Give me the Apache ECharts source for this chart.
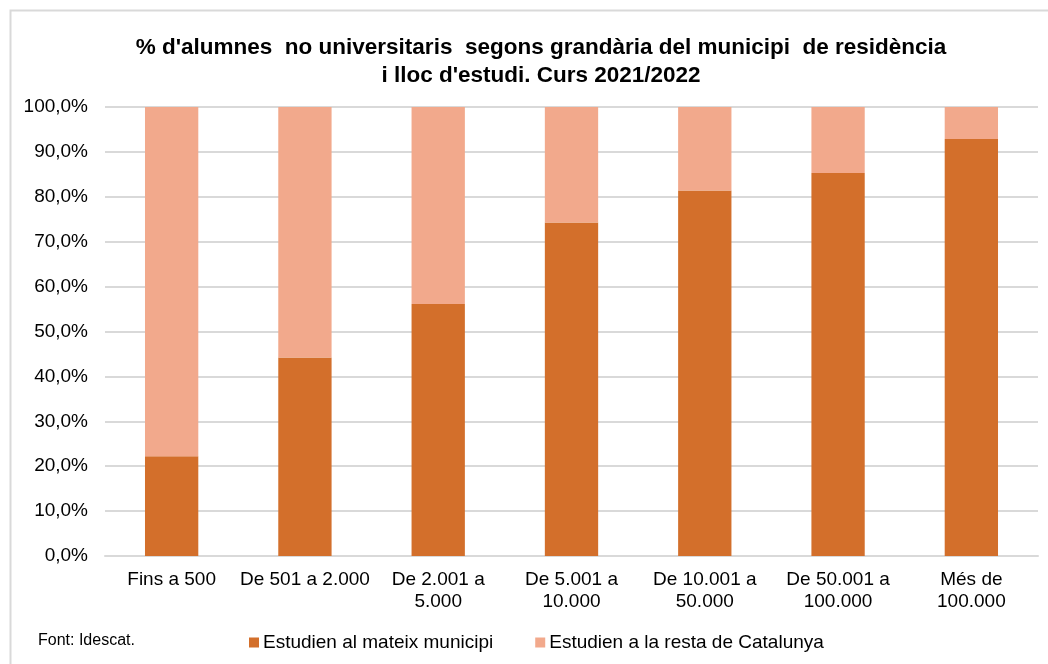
<!DOCTYPE html>
<html lang="ca">
<head>
	<meta charset="UTF-8">
	<title>Alumnes no universitaris</title>
	<style>
		html, body { margin: 0; padding: 0; background: #fff; }
		#chart { width: 1048px; height: 664px; }
	</style>
</head>
<body>
	<div id="chart"></div>
	<script src="https://cdn.jsdelivr.net/npm/echarts@6/dist/echarts.min.js"></script>
	<script>
		// categories = mida del municipi
		var categories = ['Fins a 500', 'De 501 a 2.000', 'De 2.001 a\n5.000', 'De 5.001 a\n10.000',
			'De 10.001 a\n50.000', 'De 50.001 a\n100.000', 'Més de\n100.000'];
		var mateixMunicipi = [22.2, 44.2, 56.1, 74.3, 81.4, 85.3, 92.9];
		var restaCatalunya = [77.8, 55.8, 43.9, 25.7, 18.6, 14.7, 7.1];
		var yTicks = [0, 10, 20, 30, 40, 50, 60, 70, 80, 90, 100];

		var font = 'Liberation Sans, Arial, sans-serif';

		var myChart = echarts.init(document.getElementById('chart'));
		myChart.setOption({
			backgroundColor: '#fff',
			animation: false,
			title: {
				text: "% d'alumnes  no universitaris  segons grandària del municipi  de residència\ni lloc d'estudi. Curs 2021/2022",
				left: 536, top: 29, textAlign: 'center',
				textStyle: { fontFamily: font, fontSize: 22.5, fontWeight: 'bold', color: '#000', lineHeight: 28 }
			},
			graphic: [
				{ type: 'rect', shape: { x: 10.5, y: 10.5, width: 1060, height: 700 }, style: { fill: 'none', stroke: '#d9d9d9', lineWidth: 2 } },
				{ type: 'text', left: 38, top: 633, style: { text: 'Font: Idescat.', font: '16px ' + font, fill: '#000' } }
			],
			legend: {
				left: 244, top: 628,
				itemWidth: 10, itemHeight: 10, itemGap: 42,
				icon: 'rect',
				textStyle: { fontFamily: font, fontSize: 19, color: '#000', padding: [0, 0, 0, -1] },
				data: ['Estudien al mateix municipi', 'Estudien a la resta de Catalunya']
			},
			grid: { left: 105, right: 10, top: 107, bottom: 108, containLabel: false },
			xAxis: {
				type: 'category',
				data: categories,
				axisLine: { show: true, lineStyle: { color: '#d9d9d9', width: 2 } },
				axisTick: { show: false },
				axisLabel: { fontFamily: font, fontSize: 19, color: '#000', lineHeight: 22, margin: 13, interval: 0 }
			},
			yAxis: {
				type: 'value',
				min: yTicks[0], max: yTicks[yTicks.length - 1], interval: 10,
				axisLine: { show: false },
				axisTick: { show: false },
				splitLine: { lineStyle: { color: '#d9d9d9', width: 2 } },
				axisLabel: {
					fontFamily: font, fontSize: 19, color: '#000', margin: 17,
					formatter: function (v) { return v.toFixed(1).replace('.', ',') + '%'; }
				}
			},
			series: [
				{
					name: 'Estudien al mateix municipi', type: 'bar', stack: 'total',
					barWidth: '40%', data: mateixMunicipi,
					itemStyle: { color: '#d36f2b' }
				},
				{
					name: 'Estudien a la resta de Catalunya', type: 'bar', stack: 'total',
					barWidth: '40%', data: restaCatalunya,
					itemStyle: { color: '#f2a98c' }
				}
			]
		});
	</script>
</body>
</html>
